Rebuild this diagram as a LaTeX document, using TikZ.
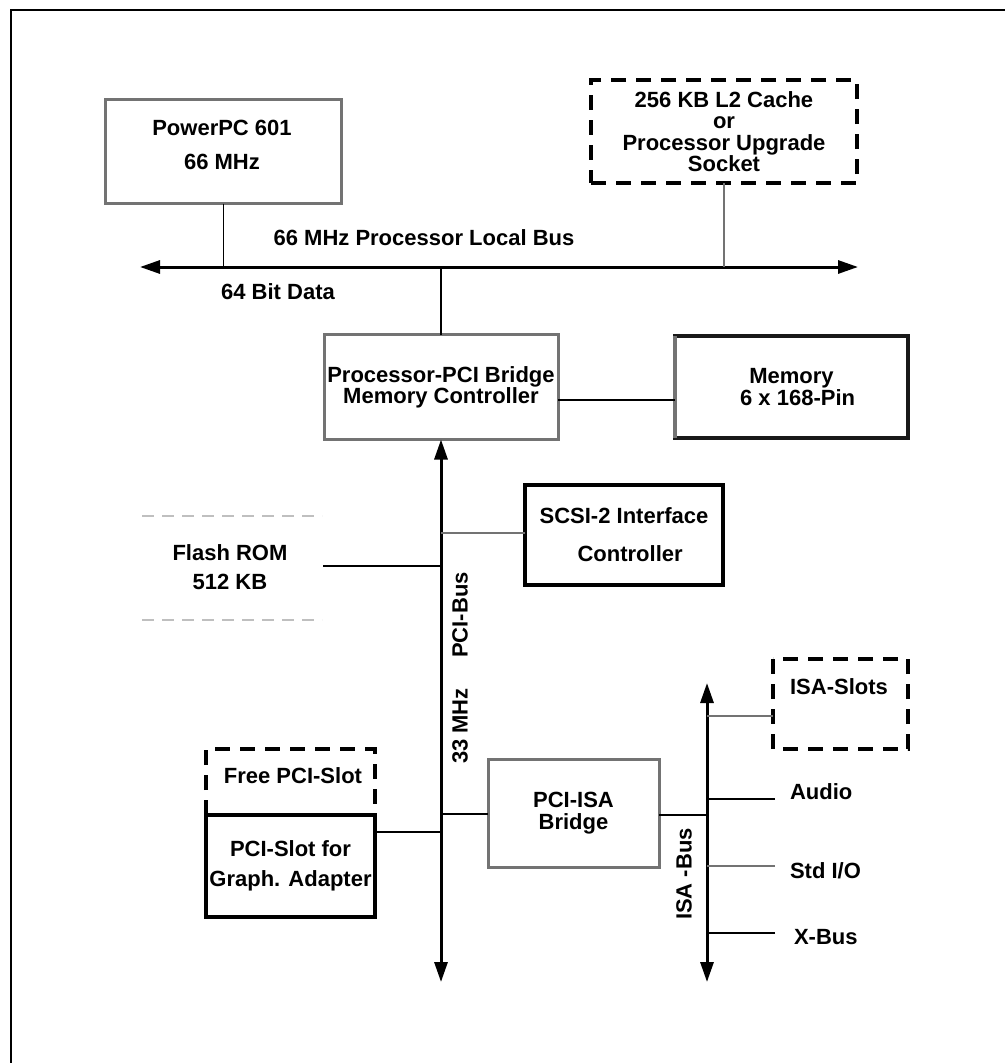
\documentclass[tikz,border=0pt]{standalone}
\usepackage{fontspec}
\setmainfont{Liberation Sans}
\usetikzlibrary{arrows.meta}
\begin{document}
\begin{tikzpicture}[x=1pt,y=-1pt,
  every node/.style={font=\fontsize{22}{22}\selectfont\bfseries, inner sep=0pt, outer sep=0pt, align=center},
  hatchbox/.style={draw=black!55, line width=3pt, rectangle},
  dashbox/.style={draw=black, line width=4pt, dash pattern=on 15pt off 10pt},
  solidbox/.style={draw=black, line width=4pt, rectangle},
  conn/.style={line width=1.3pt, black},
  gconn/.style={line width=1.3pt, black!55},
  bus/.style={line width=3pt, {Triangle[length=20pt,width=13pt]}-{Triangle[length=20pt,width=13pt]}},
  dotline/.style={line width=2.5pt, black!25, dash pattern=on 12pt off 8pt},
  bs/.style={font=\fontsize{22}{#1}\selectfont\bfseries}
]
\useasboundingbox (0,0) rectangle (1005,1063);
% frame
\draw[line width=2pt] (11,1063) -- (11,10) -- (1005,10);

% processor local bus
\coordinate (busL) at (140,267);
\coordinate (busR) at (858,267);
\draw[bus] (busL) -- (busR);
\node (buslbl) at (424,238) {66 MHz Processor Local Bus};
\node (datalbl) at (278,292) {64 Bit Data};

% PowerPC
\node[hatchbox, minimum width=236pt, minimum height=104pt] (ppc) at (223.5,151.5) {};
\node[bs=34] (ppct) at (222,145) {PowerPC 601\\66 MHz};
\draw[conn] (ppc.south) -- (ppc.south |- busL);

% L2 cache
\node[dashbox, minimum width=266pt, minimum height=103pt, bs=21.5] (l2) at (724,131.5)
  {256 KB L2 Cache\\or\\Processor Upgrade\\Socket};
\draw[gconn] (l2.south) -- (l2.south |- busL);

% bridge
\node[hatchbox, minimum width=234pt, minimum height=105pt, bs=21] (bridge) at (441,387)
  {Processor-PCI Bridge\\Memory Controller};
\draw[conn] (bridge.north) -- (bridge.north |- busL);

% memory
\node[solidbox, draw=black!90, minimum width=233pt, minimum height=102pt, bs=22] (mem) at (791.5,387)
  {Memory\\\ \ 6 x 168-Pin};
\draw[black!55, line width=4pt] (mem.north west) -- (mem.south west);
\draw[conn] ([yshift=-13pt]bridge.east) -- ([yshift=-13pt]mem.west);

% PCI bus
\coordinate (pcibot) at (441,982);
\draw[bus] (bridge.south) -- (pcibot);
\node[rotate=90] (pcilbl) at (460,615) {PCI-Bus};
\node[rotate=90] (mhzlbl) at (460,726) {33 MHz};

% SCSI
\node[solidbox, minimum width=198pt, minimum height=100pt, bs=38] (scsi) at (624,535)
  {SCSI-2 Interface\\\ \ Controller};
\draw[gconn] ([yshift=2pt]scsi.west) -- ([yshift=2pt]scsi.west -| pcibot);

% Flash ROM
\node[bs=29] (flash) at (230,567) {Flash ROM\\512 KB};
\draw[dotline] (142,516) -- (322,516);
\draw[dotline] (142,620) -- (322,620);
\coordinate (flashend) at (323,566);
\draw[conn] (flashend) -- (flashend -| pcibot);

% Free PCI slot + graphics slot
\node[minimum width=169pt, minimum height=66pt] (free) at (290.5,782) {};
\draw[line width=4pt, dash pattern=on 15pt off 10pt] (free.south west) -- (free.north west) -- (free.north east) -- (free.south east);
\node (freet) at (293,776) {Free PCI-Slot};
\node[solidbox, minimum width=169pt, minimum height=102pt, bs=30] (graph) at (290.5,866)
  {PCI-Slot for\\Graph. Adapter};
\draw[conn] ([yshift=34pt]graph.east) -- ([yshift=34pt]graph.east -| pcibot);

% PCI-ISA bridge
\node[hatchbox, minimum width=171pt, minimum height=108pt, bs=22] (pciisa) at (573.5,813)
  {PCI-ISA\\Bridge};
\draw[conn] ([yshift=-1pt]pciisa.west) -- ([yshift=-1pt]pciisa.west -| pcibot);

% ISA bus
\coordinate (isatop) at (707,683);
\coordinate (isabot) at (707,982);
\draw[bus] (isatop) -- (isabot);
\draw[conn] ([yshift=-2pt]pciisa.east) -- ([yshift=-2pt]pciisa.east -| isatop);
\node[rotate=90] (isalbl) at (684,874) {ISA -Bus};

% ISA slots
\node[minimum width=135pt, minimum height=90pt] (isaslots) at (840.5,704) {};
\draw[line width=4pt, dash pattern=on 15pt off 10pt] (isaslots.north west) rectangle (isaslots.south east);
\node (isaslotst) at (839,687) {ISA-Slots};
\draw[gconn] ([yshift=-12pt]isaslots.west) -- ([yshift=-12pt]isaslots.west -| isatop);

% devices
\node[anchor=west] (audio) at (790,792) {Audio};
\node[anchor=west] (stdio) at (790,871) {Std I/O};
\node[anchor=west] (xbus) at (794,937) {X-Bus};
\coordinate (audioend) at (775,799);
\coordinate (stdioend) at (775,866);
\coordinate (xbusend) at (775,933);
\draw[conn] (audioend) -- (audioend -| isatop);
\draw[gconn] (stdioend) -- (stdioend -| isatop);
\draw[conn] (xbusend) -- (xbusend -| isatop);
\end{tikzpicture}
\end{document}
